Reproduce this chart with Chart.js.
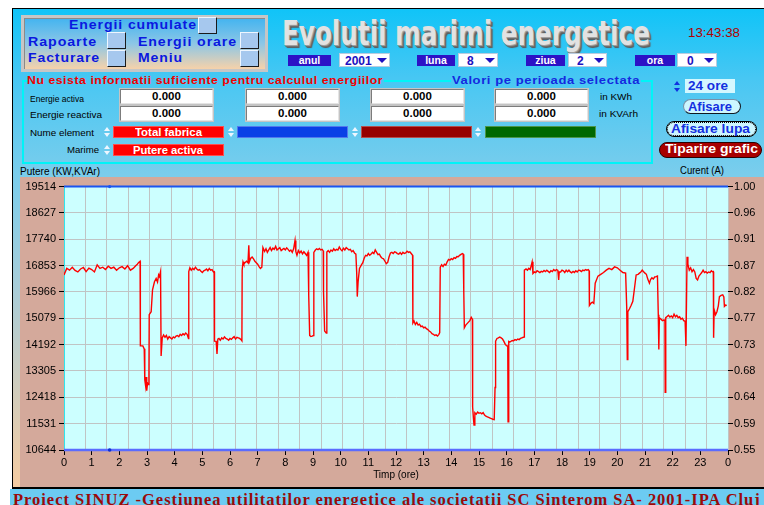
<!DOCTYPE html>
<html lang="ro">
<head>
<meta charset="UTF-8">
<title>Evolutii marimi energetice</title>
<script src="https://cdn.jsdelivr.net/npm/chart.js"></script>
<style>
  body { margin: 0; width: 764px; height: 505px; overflow: hidden; background: #fff; position: relative;
         font-family: 'Liberation Sans', Arial, sans-serif; }
  .a { position: absolute; box-sizing: border-box; }
  .t { position: absolute; white-space: nowrap; transform-origin: 0 50%; }
  #fundal { left: 12px; top: 8px; width: 752px; height: 480px; border-left: 1px solid #000; border-top: 1px solid #000;
            background: linear-gradient(#10c4f8 0px, #48c7f3 70px, #7acdec 165px, #a9cdd8 280px, #f6cca2 478px); }
  #meniu { left: 21px; top: 15px; width: 247px; height: 57px; border: 3px solid #c6c6c6;
           box-shadow: inset 1px 1px 0 #8a8a8a; background: linear-gradient(#42b4f0, #8cc6e6 50%, #f6d2aa); }
  .mtxt { font: bold 12.5px/14px 'Liberation Sans', Arial, sans-serif; color: #0a18e0; letter-spacing: .8px; }
  .patrat { position: absolute; width: 19px; height: 17px; box-sizing: border-box; background: #a6c8ee;
            border: 1px solid; border-color: #eef6ff #1a1a1a #1a1a1a #eef6ff; }
  #titlu { left: 282px; top: 16px; font: bold 34px/34px 'DejaVu Sans Condensed', 'DejaVu Sans', sans-serif; color: #e2e2e2;
           text-shadow: 1px 1px 0 #a0a0a0, 2px 2px 0 #6e6e6e, 3px 3px 1px #5a5a5a; }
  .selL { position: absolute; top: 55px; height: 11px; background: #2c12c6; color: #fff; text-align: center;
          font: bold 10.5px/11px 'Liberation Sans', Arial, sans-serif; }
  .selB { position: absolute; top: 53px; height: 14px; background: #fff; box-sizing: border-box; border: 1px solid #b8cce0;
          color: #2010c0; font: bold 12px/12px 'Liberation Sans', Arial, sans-serif; }
  .sag { position: absolute; top: 4px; width: 0; height: 0; border-left: 5px solid transparent;
         border-right: 5px solid transparent; border-top: 5px solid #2010c0; }
  .msg { font: bold 11px/13px 'Liberation Sans', Arial, sans-serif; letter-spacing: .5px; }
  .cadru { position: absolute; background: #00f4f8; }
  .lbl { font: 9.5px/12px 'Liberation Sans', Arial, sans-serif; color: #000; }
  .val { position: absolute; width: 93px; height: 15px; box-sizing: border-box; background: #fff;
         border: 1px solid; border-color: #7c7c7c #e4e4e4 #e4e4e4 #7c7c7c; box-shadow: 0 0 0 1px #c4c4c4;
         font: bold 11.5px/13px 'Liberation Sans', Arial, sans-serif; text-align: center; color: #000; }
  .chip { position: absolute; height: 12px; width: 111px; box-sizing: border-box; border: 1px solid rgba(255,255,255,.3); }
  .chipT { font: bold 11px/12px 'Liberation Sans', Arial, sans-serif; color: #fff; }
  .btn { position: absolute; box-sizing: border-box; border-radius: 8px; }
  .btT { font: bold 12.5px/14px 'Liberation Sans', Arial, sans-serif; color: #1430e0; }
  .axT { font: 10px/12px 'Liberation Sans', Arial, sans-serif; color: #000; }
  #banda { left: 10px; top: 489px; width: 754px; height: 16px; background: #6ccbf2; }
  #subsol { left: 13px; top: 491px; font: bold 17px/18px 'Liberation Serif', 'Times New Roman', serif; color: #9a0a0a; letter-spacing: 1px; }
</style>
</head>
<body>
<div id="fundal" class="a"></div>

<!-- meniu -->
<div id="meniu" class="a"></div>
<div class="t mtxt" style="left:69px;top:18px" data-w="128">Energii cumulate</div>
<div class="patrat" style="left:198px;top:17px"></div>
<div class="t mtxt" style="left:28px;top:34.5px" data-w="69">Rapoarte</div>
<div class="patrat" style="left:107px;top:32px"></div>
<div class="t mtxt" style="left:138px;top:34.5px" data-w="99">Energii orare</div>
<div class="patrat" style="left:240px;top:32px"></div>
<div class="t mtxt" style="left:28px;top:51px" data-w="72">Facturare</div>
<div class="patrat" style="left:107px;top:50px"></div>
<div class="t mtxt" style="left:138px;top:51px" data-w="45">Meniu</div>
<div class="patrat" style="left:240px;top:50px"></div>

<div id="titlu" class="t" data-w="368">Evolutii marimi energetice</div>
<div class="t" style="left:688px;top:25.5px;font:12px/14px 'Liberation Sans',Arial,sans-serif;color:#b00000" data-w="52">13:43:38</div>

<!-- selectie perioada -->
<div class="selL" style="left:288px;width:43px">anul</div>
<div class="selB" style="left:339px;width:51px"><span style="position:absolute;left:5px;top:1px">2001</span><i class="sag" style="left:37px"></i></div>
<div class="selL" style="left:417px;width:38px">luna</div>
<div class="selB" style="left:458px;width:40px"><span style="position:absolute;left:8px;top:1px">8</span><i class="sag" style="left:26px"></i></div>
<div class="selL" style="left:526px;width:39px">ziua</div>
<div class="selB" style="left:568px;width:39px"><span style="position:absolute;left:8px;top:1px">2</span><i class="sag" style="left:25px"></i></div>
<div class="selL" style="left:635px;width:40px">ora</div>
<div class="selB" style="left:677px;width:40px"><span style="position:absolute;left:9px;top:1px">0</span><i class="sag" style="left:26px"></i></div>

<!-- cadrul cu valori -->
<div class="cadru" style="left:22px;top:80px;width:2px;height:84px"></div>
<div class="cadru" style="left:651px;top:80px;width:2px;height:84px"></div>
<div class="cadru" style="left:22px;top:162px;width:631px;height:2px"></div>
<div class="cadru" style="left:22px;top:80px;width:5px;height:2px"></div>
<div class="cadru" style="left:384px;top:80px;width:67px;height:2px"></div>
<div class="cadru" style="left:641px;top:80px;width:12px;height:2px"></div>
<div class="t msg" style="left:27px;top:74px;color:#f00000" data-w="356">Nu esista informatii suficiente pentru calculul energiilor</div>
<div class="t msg" style="left:452px;top:74px;color:#1428e0" data-w="188">Valori pe perioada selectata</div>

<div class="t lbl" style="left:30px;top:93px" data-w="54">Energie activa</div>
<div class="t lbl" style="left:30px;top:109px" data-w="72">Energie reactiva</div>
<div class="t lbl" style="left:30px;top:126.5px" data-w="64">Nume element</div>
<div class="t lbl" style="left:67px;top:144px" data-w="32">Marime</div>
<div class="t lbl" style="left:600px;top:90.5px" data-w="32">in KWh</div>
<div class="t lbl" style="left:599px;top:107.5px" data-w="39">in KVArh</div>

<div class="val" style="left:120px;top:89px">0.000</div>
<div class="val" style="left:246px;top:89px">0.000</div>
<div class="val" style="left:371px;top:89px">0.000</div>
<div class="val" style="left:495px;top:89px">0.000</div>
<div class="val" style="left:120px;top:106px">0.000</div>
<div class="val" style="left:246px;top:106px">0.000</div>
<div class="val" style="left:371px;top:106px">0.000</div>
<div class="val" style="left:495px;top:106px">0.000</div>

<div class="chip" style="left:113px;top:126px;background:#ff0000"></div>
<div class="t chipT" style="left:135px;top:126px" data-w="67">Total fabrica</div>
<div class="chip" style="left:237px;top:126px;background:#0a40e6"></div>
<div class="chip" style="left:361px;top:126px;background:#960000"></div>
<div class="chip" style="left:485px;top:126px;background:#006800"></div>
<div class="chip" style="left:113px;top:144px;background:#ff0000"></div>
<div class="t chipT" style="left:133px;top:144px" data-w="70">Putere activa</div>

<!-- butoane dreapta -->
<div class="a" style="left:685px;top:79px;width:50px;height:14px;background:#d4f8ff"></div>
<div class="t btT" style="left:688px;top:79px;font-size:13px" data-w="40">24 ore</div>
<div class="btn" style="left:683px;top:99px;width:58px;height:15px;background:#cdf6ff;border:1px solid #7890a8;border-right-color:#101820;border-bottom-color:#101820"></div>
<div class="t btT" style="left:688px;top:99.8px;font-size:12px" data-w="44">Afisare</div>
<div class="btn" style="left:666px;top:121px;width:91px;height:16px;background:#cdf6ff;border:1px solid #000"></div>
<div class="a" style="left:667px;top:122px;width:89px;height:14px;border:1px dotted #000;border-radius:7px"></div>
<div class="t btT" style="left:671px;top:121.7px" data-w="79">Afisare lupa</div>
<div class="btn" style="left:659px;top:142px;width:103px;height:16px;background:#a80000;border:1px solid #300000"></div>
<div class="t btT" style="left:665px;top:142.2px;color:#fff" data-w="93">Tiparire grafic</div>

<div class="t axT" style="left:20px;top:165.5px" data-w="80">Putere (KW,KVAr)</div>
<div class="t axT" style="left:680px;top:164.5px" data-w="44">Curent (A)</div>

<canvas id="grafic" class="a" width="744" height="310" style="left:20px;top:177px;background:#d4a99b"></canvas>

<div class="a" style="left:12px;top:487px;width:752px;height:2px;background:#000"></div>
<div id="banda" class="a"></div>
<div id="subsol" class="t" data-w="748">Proiect SINUZ -Gestiunea utilitatilor energetice ale societatii SC Sinterom SA- 2001-IPA Cluj</div>

<script>
// timp (ore) si puterea activa (KW), 2 august 2001
var ore = [
  0, 0.1, 0.2, 0.3, 0.4, 0.5, 0.6, 0.7, 0.8, 0.9,
  1.0, 1.1, 1.2, 1.3, 1.4, 1.5, 1.6, 1.7, 1.8, 1.9,
  2.0, 2.1, 2.2, 2.3, 2.4, 2.5, 2.6, 2.65, 2.7, 2.75,
  2.76, 2.85, 2.9, 2.92, 2.95, 2.97, 2.99, 3.02, 3.05, 3.07,
  3.08, 3.15, 3.2, 3.27, 3.33, 3.38, 3.42, 3.45, 3.49, 3.51,
  3.55, 3.6, 3.65, 3.7, 3.75, 3.8, 3.85, 3.9, 3.95, 4.0,
  4.05, 4.1, 4.15, 4.2, 4.25, 4.3, 4.35, 4.4, 4.45, 4.5,
  4.51, 4.55, 4.6, 4.65, 4.7, 4.75, 4.8, 4.85, 4.9, 4.95,
  5.0, 5.05, 5.1, 5.15, 5.2, 5.25, 5.3, 5.35, 5.4, 5.43,
  5.44, 5.5, 5.53, 5.56, 5.6, 5.65, 5.7, 5.75, 5.8, 5.85,
  5.9, 5.95, 6.0, 6.05, 6.1, 6.15, 6.2, 6.25, 6.3, 6.35,
  6.4, 6.43, 6.44, 6.47, 6.5, 6.55, 6.6, 6.65, 6.68, 6.7,
  6.75, 6.8, 6.85, 6.9, 6.95, 7.0, 7.05, 7.1, 7.15, 7.19,
  7.25, 7.3, 7.35, 7.4, 7.45, 7.5, 7.55, 7.6, 7.65, 7.7,
  7.75, 7.8, 7.85, 7.9, 7.95, 8.0, 8.05, 8.1, 8.15, 8.2,
  8.25, 8.3, 8.35, 8.38, 8.42, 8.47, 8.52, 8.57, 8.62, 8.67,
  8.72, 8.77, 8.82, 8.84, 8.85, 8.88, 8.92, 8.97, 9.02, 9.03,
  9.08, 9.13, 9.18, 9.23, 9.28, 9.33, 9.37, 9.38, 9.42, 9.48,
  9.5, 9.55, 9.6, 9.65, 9.7, 9.75, 9.8, 9.85, 9.9, 9.95,
  10.0, 10.05, 10.1, 10.15, 10.2, 10.25, 10.3, 10.35, 10.4, 10.45,
  10.5, 10.55, 10.58, 10.6, 10.63, 10.68, 10.75, 10.8, 10.85, 10.9,
  10.95, 11.0, 11.05, 11.1, 11.15, 11.2, 11.25, 11.3, 11.35, 11.4,
  11.45, 11.5, 11.55, 11.6, 11.65, 11.7, 11.75, 11.8, 11.85, 11.9,
  11.95, 12.0, 12.05, 12.1, 12.15, 12.2, 12.25, 12.3, 12.35, 12.4,
  12.45, 12.5, 12.55, 12.6, 12.61, 12.65, 12.7, 12.75, 12.8, 12.85,
  12.9, 12.95, 13.0, 13.05, 13.1, 13.15, 13.2, 13.25, 13.3, 13.35,
  13.4, 13.45, 13.5, 13.55, 13.58, 13.6, 13.65, 13.7, 13.75, 13.8,
  13.85, 13.9, 13.95, 14.0, 14.05, 14.1, 14.15, 14.2, 14.25, 14.3,
  14.35, 14.4, 14.43, 14.45, 14.47, 14.52, 14.57, 14.62, 14.67, 14.72,
  14.76, 14.77, 14.8, 14.82, 14.85, 14.9, 14.95, 15.0, 15.05, 15.1,
  15.15, 15.2, 15.25, 15.3, 15.35, 15.4, 15.45, 15.5, 15.55, 15.58,
  15.6, 15.65, 15.7, 15.75, 15.8, 15.85, 15.9, 15.95, 16.0, 16.04,
  16.05, 16.07, 16.08, 16.12, 16.2, 16.25, 16.3, 16.35, 16.4, 16.45,
  16.5, 16.55, 16.6, 16.63, 16.64, 16.7, 16.75, 16.8, 16.85, 16.92,
  16.95, 17.0, 17.05, 17.1, 17.15, 17.2, 17.25, 17.3, 17.35, 17.4,
  17.45, 17.5, 17.55, 17.6, 17.65, 17.7, 17.75, 17.8, 17.85, 17.88,
  17.9, 17.95, 18.0, 18.05, 18.1, 18.15, 18.2, 18.25, 18.3, 18.35,
  18.4, 18.45, 18.5, 18.55, 18.6, 18.65, 18.7, 18.75, 18.8, 18.85,
  18.9, 18.95, 18.98, 18.99, 19.05, 19.1, 19.15, 19.2, 19.3, 19.4,
  19.5, 19.6, 19.7, 19.8, 19.9, 20.0, 20.1, 20.2, 20.3, 20.34,
  20.36, 20.38, 20.44, 20.5, 20.56, 20.62, 20.68, 20.75, 20.8, 20.85,
  20.9, 20.95, 21.0, 21.05, 21.1, 21.16, 21.2, 21.25, 21.3, 21.35,
  21.4, 21.45, 21.48, 21.5, 21.52, 21.58, 21.63, 21.67, 21.7, 21.72,
  21.73, 21.75, 21.8, 21.85, 21.9, 21.95, 22.0, 22.05, 22.1, 22.15,
  22.2, 22.25, 22.3, 22.35, 22.4, 22.45, 22.48, 22.52, 22.55, 22.6,
  22.65, 22.7, 22.75, 22.8, 22.85, 22.9, 22.95, 23.0, 23.05, 23.1,
  23.15, 23.2, 23.25, 23.3, 23.35, 23.4, 23.45, 23.47, 23.48, 23.5,
  23.55, 23.6, 23.65, 23.69, 23.75, 23.81, 23.85, 23.87, 23.92, 23.95
];
var putere = [
  16540, 16760, 16700, 16800, 16690, 16640, 16740, 16790, 16650, 16770,
  16720, 16640, 16880, 16760, 16800, 16720, 16830, 16760, 16800, 16700,
  16780, 16820, 16740, 16850, 16700, 16760, 16860, 16900, 16960, 17000,
  14150, 14150, 14050, 13000, 12800, 13100, 12640, 12900, 12850, 13100,
  15200, 15300, 16040, 16310, 16420, 16300, 16540, 16480, 16650, 13810,
  14420, 14520, 14440, 14500, 14380, 14460, 14420, 14380, 14450, 14420,
  14480, 14500, 14460, 14540, 14500, 14560, 14520, 14580, 14540, 14400,
  16650, 16780, 16700, 16760, 16720, 16800, 16740, 16700, 16720, 16660,
  16620, 16680, 16700, 16740, 16680, 16760, 16700, 16720, 16640, 16650,
  14310, 14300, 13880, 14380, 14400, 14340, 14420, 14380, 14450, 14400,
  14380, 14340, 14400, 14370, 14420, 14460, 14380, 14440, 14420, 14400,
  14360, 14320, 16700, 16980, 16900, 16960, 17000, 16950, 17540, 16980,
  17100, 17140, 17080, 17000, 16950, 16900, 16820, 16760, 16800, 17460,
  17330, 17420, 17300, 17380, 17460, 17360, 17440, 17400, 17500, 17380,
  17420, 17460, 17360, 17400, 17430, 17380, 17450, 17400, 17340, 17380,
  17300, 17420, 17700, 17320, 17200, 17360, 17280, 17340, 17250, 17320,
  17260, 17200, 17300, 17250, 15870, 14500, 14470, 14480, 14500, 17300,
  17370, 17420, 17390, 17430, 17380, 17400, 17350, 15980, 14650, 14580,
  17310, 17360, 17300, 17380, 17340, 17420, 17360, 17400, 17380, 17480,
  17400, 17350, 17440, 17380, 17460, 17420, 17380, 17400, 17320, 17360,
  17280, 17240, 16600, 15810, 16300, 16760, 16880, 16950, 17100, 17200,
  17180, 17260, 17200, 17240, 17300, 17260, 17380, 17300, 17220, 17240,
  17150, 17100, 17080, 17000, 16920, 16960, 17150, 17280, 17300, 17260,
  17320, 17300, 17260, 17240, 17290, 17230, 17300, 17260, 17280, 17340,
  17300, 17320, 17260, 17200, 14920, 14990, 14870, 14940, 14850, 14880,
  14800, 14820, 14760, 14780, 14730, 14700, 14650, 14620, 14560, 14540,
  14500, 14520, 14480, 14540, 14600, 16800, 16880, 16820, 16900, 16870,
  16980, 17060, 17040, 17090, 17060, 17120, 17100, 17160, 17150, 17200,
  17230, 17260, 17240, 15980, 14760, 14850, 14900, 14950, 15000, 15110,
  15050, 12090, 11700, 11480, 11900, 11850, 11920, 11880, 11900, 11860,
  11900, 11820, 11780, 11760, 11740, 11720, 11700, 11680, 11670, 12750,
  14310, 14400, 14420, 14450, 14420, 14380, 14300, 14200, 14150, 14150,
  11590, 11600, 14300, 14280, 14330, 14320, 14360, 14340, 14380, 14360,
  14400, 14420, 14440, 14450, 16700, 16740, 16700, 16760, 16720, 16980,
  16590, 16640, 16620, 16680, 16650, 16620, 16660, 16640, 16690, 16650,
  16700, 16660, 16620, 16680, 16650, 16720, 16680, 16720, 16690, 16370,
  16640, 16640, 16700, 16680, 16620, 16700, 16650, 16700, 16640, 16610,
  16660, 16620, 16680, 16640, 16700, 16690, 16650, 16700, 16680, 16720,
  16700, 16720, 16680, 15510, 15590, 15620, 15580, 16260, 16500, 16560,
  16620, 16700, 16760, 16720, 16810, 16780, 16700, 16620, 16600, 15420,
  13690, 15300, 15400, 15520, 15650, 16090, 16540, 16560, 16600, 16640,
  16700, 16650, 16600, 16560, 16400, 16260, 16380, 16440, 16400, 16470,
  16480, 16500, 15200, 14030, 15100, 15050, 15000, 15020, 15000, 15050,
  12590, 15100, 15140, 15180, 15120, 15160, 15100, 15220, 15130, 15180,
  15100, 15130, 15050, 15080, 15000, 14980, 14150, 17150, 16900, 16700,
  16780, 16650, 16720, 16640, 16420, 16370, 16500, 16560, 16620, 16700,
  16620, 16650, 16600, 16640, 16620, 16680, 16640, 16650, 14420, 15370,
  15200, 15300, 15500, 15810, 15850, 15870, 15800, 15480, 15530, 15500
];

// canalele albastre fara date: linie la capete si marcajul de la 1.65 h
var oreMarcaj = [0, 1.65, 24];
var nivelSus = [19514, 19514, 19514];
var nivelJos = [10644, 10644, 10644];

// etichetele axelor
var tickPutere = [10644, 11531, 12418, 13305, 14192, 15079, 15966, 16853, 17740, 18627, 19514];
var tickCurent = [0.55, 0.595, 0.64, 0.685, 0.73, 0.775, 0.82, 0.865, 0.91, 0.955, 1.00];
var etichCurent = ['0.55', '0.59', '0.64', '0.68', '0.73', '0.77', '0.82', '0.87', '0.91', '0.96', '1.00'];
var tickOre = [0, 1, 2, 3, 4, 5, 6, 7, 8, 9, 10, 11, 12, 13, 14, 15, 16, 17, 18, 19, 20, 21, 22, 23, 24];
var etichOre = ['0', '1', '2', '3', '4', '5', '6', '7', '8', '9', '10', '11', '12', '13', '14', '15',
                '16', '17', '18', '19', '20', '21', '22', '23', '0'];

// latimea textelor ca in original
document.querySelectorAll('[data-w]').forEach(function (el) {
  var w = el.getBoundingClientRect().width;
  el.style.transform = 'scaleX(' + (Number(el.dataset.w) / w).toFixed(3) + ')';
});

// sagetile mici sus/jos
function spinner(x, y, culoare, lat, inalt, pas) {
  var sus = document.createElement('div');
  sus.className = 'a';
  sus.style.cssText = 'left:' + x + 'px;top:' + y + 'px;width:0;height:0;border-left:' + lat / 2 + 'px solid transparent;border-right:' + lat / 2 + 'px solid transparent;border-bottom:' + inalt + 'px solid ' + culoare;
  var jos = document.createElement('div');
  jos.className = 'a';
  jos.style.cssText = 'left:' + x + 'px;top:' + (y + pas) + 'px;width:0;height:0;border-left:' + lat / 2 + 'px solid transparent;border-right:' + lat / 2 + 'px solid transparent;border-top:' + inalt + 'px solid ' + culoare;
  document.body.appendChild(sus);
  document.body.appendChild(jos);
}
spinner(104, 127, '#eef6ff', 6, 4, 6);
spinner(228, 127, '#eef6ff', 6, 4, 6);
spinner(352, 127, '#eef6ff', 6, 4, 6);
spinner(475, 127, '#eef6ff', 6, 4, 6);
spinner(104, 145, '#eef6ff', 6, 4, 6);
spinner(674, 81, '#1030e0', 7, 4, 7);

var fundalGrafic = {
  id: 'fundalGrafic',
  beforeDraw: function (chart) {
    var a = chart.chartArea, ctx = chart.ctx;
    ctx.save();
    ctx.fillStyle = '#ccffff';
    ctx.fillRect(a.left, a.top, a.right - a.left, a.bottom - a.top);
    ctx.restore();
  }
};

Chart.defaults.font.family = "'Liberation Sans', Arial, sans-serif";
Chart.defaults.font.size = 11;
Chart.defaults.color = '#000';

function puncte(xs, ys) {
  return xs.map(function (x, i) { return { x: x, y: ys[i] }; });
}

var grafic = new Chart(document.getElementById('grafic'), {
  type: 'line',
  data: {
    datasets: [
      { label: 'Putere activa', data: puncte(ore, putere), borderColor: '#ff0000', borderWidth: 1.4,
        pointRadius: 0, tension: 0, xAxisID: 'x', yAxisID: 'y' },
      { label: 'canal 2', data: puncte(oreMarcaj, nivelSus), borderColor: '#1a55f0', borderWidth: 2,
        pointRadius: function (c) { return c.dataIndex === 1 ? 1.6 : 0; }, pointBackgroundColor: '#1a55f0',
        pointBorderWidth: 0, clip: false, xAxisID: 'x', yAxisID: 'y' },
      { label: 'canal 3', data: puncte(oreMarcaj, nivelJos), borderColor: '#5a6cff', borderWidth: 2.5,
        pointRadius: function (c) { return c.dataIndex === 1 ? 1.8 : 0; }, pointBackgroundColor: '#1030d0',
        pointBorderWidth: 0, clip: false, xAxisID: 'x', yAxisID: 'y' }
    ]
  },
  options: {
    responsive: false,
    animation: false,
    events: [],
    layout: { padding: { top: 7, left: 0, right: 0, bottom: 0 } },
    plugins: { legend: { display: false }, tooltip: { enabled: false } },
    scales: {
      x: {
        type: 'linear', position: 'bottom', min: 0, max: 24,
        afterBuildTicks: function (s) { s.ticks = tickOre.map(function (v) { return { value: v }; }); },
        afterFit: function (s) { s.height = 37; },
        grid: { drawOnChartArea: false, tickLength: 5, tickColor: '#000' },
        border: { display: false },
        ticks: { autoSkip: false, maxRotation: 0, padding: 1, callback: function (v, i) { return etichOre[i]; } },
        title: { display: true, text: 'Timp (ore)', font: { size: 10 }, padding: { top: 0, bottom: 6 } }
      },
      x2: {
        type: 'linear', position: 'top', min: 0, max: 31,
        afterBuildTicks: function (s) {
          var t = [];
          for (var i = 0; i <= 31; i++) t.push({ value: i });
          s.ticks = t;
        },
        afterFit: function (s) { s.height = 0; },
        grid: { color: '#c0c4c4', drawTicks: false },
        border: { display: false },
        ticks: { display: false }
      },
      y: {
        type: 'linear', position: 'left', min: 10644, max: 19514,
        afterBuildTicks: function (s) { s.ticks = tickPutere.map(function (v) { return { value: v }; }); },
        afterFit: function (s) { s.width = 44; },
        grid: { color: '#c0c4c4', tickColor: '#000', tickLength: 5 },
        border: { color: '#30e4ec', width: 1 },
        ticks: { autoSkip: false, padding: 3, callback: function (v) { return String(v); } }
      },
      y2: {
        type: 'linear', position: 'right', min: 0.55, max: 1.00,
        afterBuildTicks: function (s) { s.ticks = tickCurent.map(function (v) { return { value: v }; }); },
        afterFit: function (s) { s.width = 36; },
        grid: { drawOnChartArea: false, tickColor: '#000', tickLength: 5 },
        border: { display: false },
        ticks: { autoSkip: false, padding: 1, callback: function (v, i) { return etichCurent[i]; } }
      }
    }
  },
  plugins: [fundalGrafic]
});
</script>
</body>
</html>
